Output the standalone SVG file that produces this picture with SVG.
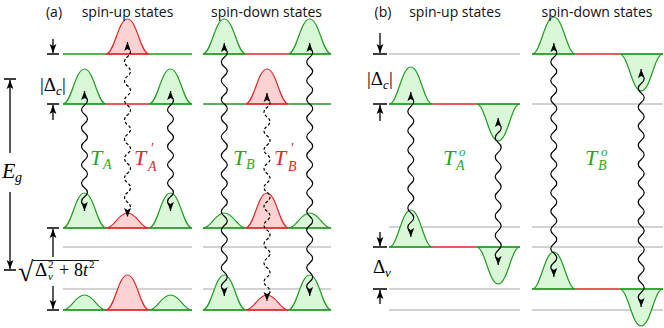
<svg xmlns="http://www.w3.org/2000/svg" width="664" height="328" viewBox="0 0 664 328">
<defs>
<style>
.hdr{font-family:"Open Sans","DejaVu Sans",sans-serif;font-size:14px;fill:#111;text-anchor:middle}
.mi{font-family:"Liberation Serif","DejaVu Serif",serif;font-style:italic;fill:#000}
.mu{font-family:"Liberation Serif","DejaVu Serif",serif;fill:#000}
.gt{fill:#1faa1f}
.rt{fill:#e3262b}
.gg{fill:#d8f8d8;stroke:#229922;stroke-width:1.2}
.rg{fill:#fdd2d2;stroke:#e02828;stroke-width:1.2}
.lg{stroke:#229922;stroke-width:1.6;fill:none}
.lr{stroke:#e02828;stroke-width:1.6;fill:none}
.lgy{stroke:#c4c4c4;stroke-width:1.6;fill:none}
.wv{fill:none;stroke:#000;stroke-width:1.2;marker-start:url(#ah);marker-end:url(#ah)}
.dsh{stroke-dasharray:3 2}
.ar{fill:none;stroke:#000;stroke-width:1.3;marker-end:url(#ah)}
.bar{stroke:#000;stroke-width:1.4;fill:none}
</style>
<marker id="ah" viewBox="-10 -4 11 8" refX="0" refY="0" markerWidth="11" markerHeight="8" markerUnits="userSpaceOnUse" orient="auto-start-reverse"><path d="M0,0 L-9,-3.4 L-7,0 L-9,3.4 Z" fill="#000"/></marker>
<path id="h35" d="M-21.5,0 C-13,0 -9.5,-35 0,-35 C9.5,-35 13,0 21.5,0 Z"/>
<path id="h15" d="M-21.5,0 C-13,0 -9.5,-15 0,-15 C9.5,-15 13,0 21.5,0 Z"/>
<path id="u37" d="M-21.8,0 C-13,0 -9.5,-37 0,-37 C9.5,-37 13,0 21.8,0 Z"/>
<path id="d37" d="M-21.8,0 C-13,0 -9.5,37 0,37 C9.5,37 13,0 21.8,0 Z"/>
</defs>
<rect width="664" height="328" fill="#fff"/>

<g id="a-up">
<path class="lgy" d="M63,247H192M63,289H192"/>
<use href="#h35" class="rg" x="127.5" y="54"/>
<use href="#h35" class="gg" x="84.5" y="104"/>
<use href="#h35" class="gg" x="170.5" y="104"/>
<use href="#h35" class="gg" x="84.5" y="228"/>
<use href="#h15" class="rg" x="127.5" y="228"/>
<use href="#h35" class="gg" x="170.5" y="228"/>
<use href="#h15" class="gg" x="84.5" y="310"/>
<use href="#h35" class="rg" x="127.5" y="310"/>
<use href="#h15" class="gg" x="170.5" y="310"/>
<path class="lg" d="M63,54H106M149,54H192M63,104H106M149,104H192M63,228H106M149,228H192M63,310H106M149,310H192"/>
<path class="lr" d="M106,54H149M106,104H149M106,228H149M106,310H149"/>
</g>

<g id="a-down">
<path class="lgy" d="M203,247H331M203,289H331"/>
<use href="#h35" class="gg" x="224.3" y="54"/>
<use href="#h35" class="gg" x="309.7" y="54"/>
<use href="#h35" class="rg" x="267" y="104"/>
<use href="#h15" class="gg" x="224.3" y="228"/>
<use href="#h35" class="rg" x="267" y="228"/>
<use href="#h15" class="gg" x="309.7" y="228"/>
<use href="#h35" class="gg" x="224.3" y="310"/>
<use href="#h15" class="rg" x="267" y="310"/>
<use href="#h35" class="gg" x="309.7" y="310"/>
<path class="lg" d="M203,54H245.7M288.3,54H331M203,104H245.7M288.3,104H331M203,228H245.7M288.3,228H331M203,310H245.7M288.3,310H331"/>
<path class="lr" d="M245.7,54H288.3M245.7,104H288.3M245.7,228H288.3M245.7,310H288.3"/>
</g>

<g id="b-up">
<path class="lgy" d="M389,54H520M389,227H520M389,289H520M389,310H520"/>
<use href="#u37" class="gg" x="410.8" y="104"/>
<use href="#d37" class="gg" x="498.2" y="104"/>
<use href="#u37" class="gg" x="410.8" y="247"/>
<use href="#d37" class="gg" x="498.2" y="247"/>
<path class="lg" d="M389,104H432.7M476.3,104H520M389,247H432.7M476.3,247H520"/>
<path class="lr" d="M432.7,104H476.3M432.7,247H476.3"/>
</g>

<g id="b-down">
<path class="lgy" d="M532,104H663M532,227H663M532,247H663M532,310H663"/>
<use href="#u37" class="gg" x="553.8" y="54"/>
<use href="#d37" class="gg" x="641.2" y="54"/>
<use href="#u37" class="gg" x="553.8" y="289"/>
<use href="#d37" class="gg" x="641.2" y="289"/>
<path class="lg" d="M532,54H575.7M619.3,54H663M532,289H575.7M619.3,289H663"/>
<path class="lr" d="M575.7,54H619.3M575.7,289H619.3"/>
</g>

<g id="connectors">
<path class="wv" d="M84.5,91 v5 q6,4.5833 0,9.1667 t0,9.1667 t0,9.1667 t0,9.1667 t0,9.1667 t0,9.1667 t0,9.1667 t0,9.1667 t0,9.1667 t0,9.1667 t0,9.1667 t0,9.1667 v5"/>
<path class="wv" d="M170.5,91 v5 q6,4.5833 0,9.1667 t0,9.1667 t0,9.1667 t0,9.1667 t0,9.1667 t0,9.1667 t0,9.1667 t0,9.1667 t0,9.1667 t0,9.1667 t0,9.1667 t0,9.1667 v5"/>
<path class="wv dsh" d="M127.5,42 v5 q6,4.8529 0,9.7059 t0,9.7059 t0,9.7059 t0,9.7059 t0,9.7059 t0,9.7059 t0,9.7059 t0,9.7059 t0,9.7059 t0,9.7059 t0,9.7059 t0,9.7059 t0,9.7059 t0,9.7059 t0,9.7059 t0,9.7059 t0,9.7059 v5"/>
<path class="wv" d="M224.3,43 v5 q6,4.6731 0,9.3462 t0,9.3462 t0,9.3462 t0,9.3462 t0,9.3462 t0,9.3462 t0,9.3462 t0,9.3462 t0,9.3462 t0,9.3462 t0,9.3462 t0,9.3462 t0,9.3462 t0,9.3462 t0,9.3462 t0,9.3462 t0,9.3462 t0,9.3462 t0,9.3462 t0,9.3462 t0,9.3462 t0,9.3462 t0,9.3462 t0,9.3462 t0,9.3462 t0,9.3462 v5"/>
<path class="wv" d="M309.7,43 v5 q6,4.6731 0,9.3462 t0,9.3462 t0,9.3462 t0,9.3462 t0,9.3462 t0,9.3462 t0,9.3462 t0,9.3462 t0,9.3462 t0,9.3462 t0,9.3462 t0,9.3462 t0,9.3462 t0,9.3462 t0,9.3462 t0,9.3462 t0,9.3462 t0,9.3462 t0,9.3462 t0,9.3462 t0,9.3462 t0,9.3462 t0,9.3462 t0,9.3462 t0,9.3462 t0,9.3462 v5"/>
<path class="wv dsh" d="M267,93 v5 q6,4.7143 0,9.4286 t0,9.4286 t0,9.4286 t0,9.4286 t0,9.4286 t0,9.4286 t0,9.4286 t0,9.4286 t0,9.4286 t0,9.4286 t0,9.4286 t0,9.4286 t0,9.4286 t0,9.4286 t0,9.4286 t0,9.4286 t0,9.4286 t0,9.4286 t0,9.4286 t0,9.4286 t0,9.4286 v5"/>
<path class="wv" d="M410.8,92 v5 q6,4.8214 0,9.6429 t0,9.6429 t0,9.6429 t0,9.6429 t0,9.6429 t0,9.6429 t0,9.6429 t0,9.6429 t0,9.6429 t0,9.6429 t0,9.6429 t0,9.6429 t0,9.6429 t0,9.6429 v5"/>
<path class="wv" d="M498.2,118 v5 q6,4.8929 0,9.7857 t0,9.7857 t0,9.7857 t0,9.7857 t0,9.7857 t0,9.7857 t0,9.7857 t0,9.7857 t0,9.7857 t0,9.7857 t0,9.7857 t0,9.7857 t0,9.7857 t0,9.7857 v5"/>
<path class="wv" d="M553.8,43 v5 q6,4.6667 0,9.3333 t0,9.3333 t0,9.3333 t0,9.3333 t0,9.3333 t0,9.3333 t0,9.3333 t0,9.3333 t0,9.3333 t0,9.3333 t0,9.3333 t0,9.3333 t0,9.3333 t0,9.3333 t0,9.3333 t0,9.3333 t0,9.3333 t0,9.3333 t0,9.3333 t0,9.3333 t0,9.3333 t0,9.3333 t0,9.3333 t0,9.3333 v5"/>
<path class="wv" d="M641.2,69 v5 q6,4.75 0,9.5 t0,9.5 t0,9.5 t0,9.5 t0,9.5 t0,9.5 t0,9.5 t0,9.5 t0,9.5 t0,9.5 t0,9.5 t0,9.5 t0,9.5 t0,9.5 t0,9.5 t0,9.5 t0,9.5 t0,9.5 t0,9.5 t0,9.5 t0,9.5 t0,9.5 t0,9.5 t0,9.5 v5"/>

<path class="bar" d="M47,54H59M47,104H59M4,79H16M4,270H16M47,228H59M47,310H59M373,54H387M373,104H387M373,247H387M373,289H387"/>
<path class="ar" d="M53,39V53"/>
<path class="ar" d="M53,120V105"/>
<path class="ar" d="M10,153V80"/>
<path class="ar" d="M10,192V269"/>
<path class="ar" d="M53,257V229"/>
<path class="ar" d="M53,286V309"/>
<path class="ar" d="M380,33V53"/>
<path class="ar" d="M380,121V105"/>
<path class="ar" d="M380,232V246"/>
<path class="ar" d="M380,304V290"/>
</g>

<g id="labels">
<text class="hdr" x="54" y="17">(a)</text>
<text class="hdr" x="127.5" y="17">spin-up states</text>
<text class="hdr" x="266.5" y="17">spin-down states</text>
<text class="hdr" x="383" y="17">(b)</text>
<text class="hdr" x="455" y="17">spin-up states</text>
<text class="hdr" x="597" y="17">spin-down states</text>

<text class="mi gt" x="90" y="165" font-size="22">T</text><text class="mi gt" x="103" y="169" font-size="14">A</text>
<text class="mi rt" x="134" y="165" font-size="22">T</text><text class="mu rt" x="151" y="153" font-size="15">′</text><text class="mi rt" x="148" y="171" font-size="14">A</text>
<text class="mi gt" x="233" y="165" font-size="22">T</text><text class="mi gt" x="246" y="169" font-size="14">B</text>
<text class="mi rt" x="274" y="165" font-size="22">T</text><text class="mu rt" x="291" y="153" font-size="15">′</text><text class="mi rt" x="288" y="171" font-size="14">B</text>
<text class="mi gt" x="443" y="165" font-size="22">T</text><text class="mi gt" x="459" y="156" font-size="13">o</text><text class="mi gt" x="456" y="170" font-size="14">A</text>
<text class="mi gt" x="585" y="165" font-size="22">T</text><text class="mi gt" x="601" y="156" font-size="13">o</text><text class="mi gt" x="598" y="170" font-size="14">B</text>

<text class="mi" x="2" y="178" font-size="22">E</text><text class="mi" x="15" y="182" font-size="14">g</text>

<text class="mu" x="40" y="91" font-size="19">|Δ</text><text class="mi" x="56" y="95" font-size="13">c</text><text class="mu" x="62" y="91" font-size="19">|</text>
<text class="mu" x="367" y="85" font-size="19">|Δ</text><text class="mi" x="383" y="89" font-size="13">c</text><text class="mu" x="389" y="85" font-size="19">|</text>
<text class="mu" x="373" y="273" font-size="19">Δ</text><text class="mi" x="385" y="277" font-size="13">v</text>

<text class="mu" x="18" y="281" font-size="28">√</text>
<path class="bar" d="M33,260.5H99" style="stroke-width:0.9"/>
<text class="mu" x="35" y="276" font-size="19">Δ</text><text class="mu" x="48" y="268" font-size="11">2</text><text class="mi" x="48" y="280" font-size="11">v</text>
<text class="mu" x="59" y="276" font-size="18">+</text><text class="mu" x="74" y="276" font-size="18">8</text><text class="mi" x="83" y="276" font-size="18">t</text><text class="mu" x="89" y="268" font-size="11">2</text>
</g>
</svg>
